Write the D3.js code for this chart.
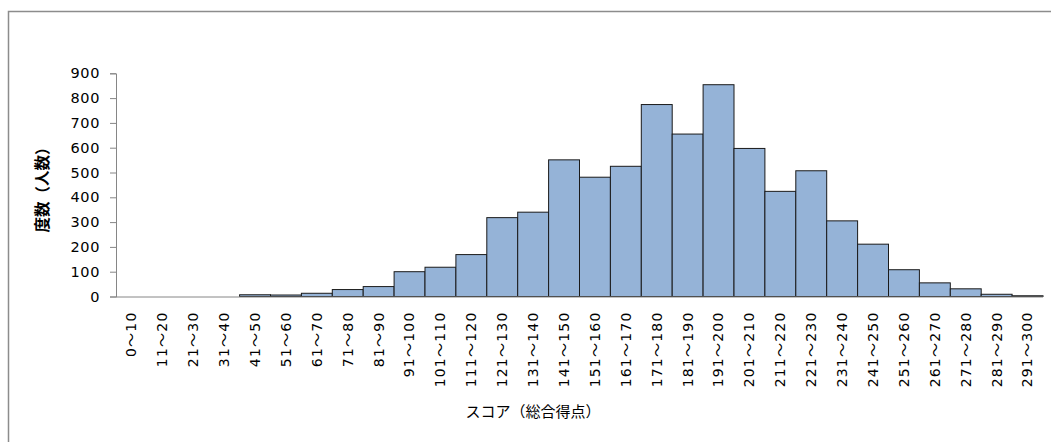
<!DOCTYPE html>
<html>
<head>
<meta charset="utf-8">
<script src="https://cdnjs.cloudflare.com/ajax/libs/d3/7.8.5/d3.min.js"></script>
<style>
  body { margin: 0; background: #fff; }
  svg text { font-family: "DejaVu Sans", "Noto Sans CJK JP", sans-serif; fill: #000; }
</style>
</head>
<body>
<script>
// score bins and counts
var bins = ['0～10','11～20','21～30','31～40','41～50','51～60','61～70','71～80','81～90','91～100',
            '101～110','111～120','121～130','131～140','141～150','151～160','161～170','171～180','181～190','191～200',
            '201～210','211～220','221～230','231～240','241～250','251～260','261～270','271～280','281～290','291～300'];
var counts = [0, 0, 0, 0, 7, 6, 13, 28, 40, 100,
              118, 169, 318, 340, 551, 481, 525, 774, 655, 854,
              597, 424, 507, 305, 211, 108, 55, 31, 9, 3];
var yTicks = [0, 100, 200, 300, 400, 500, 600, 700, 800, 900];

var width = 1051, height = 442;
var plotLeft = 116, plotRight = 1043, plotTop = 73.3, plotBottom = 296.5;

var svg = d3.select('body').append('svg')
    .attr('width', width)
    .attr('height', height);

// chart frame (only top and left edges show in the picture)
svg.append('path')
    .attr('d', 'M8.5,' + height + 'V11.5H' + width)
    .attr('fill', 'none')
    .attr('stroke', '#8c8c8c')
    .attr('stroke-width', 1.5);

var x = d3.scaleBand().domain(bins).range([plotLeft, plotRight]).padding(0);
var y = d3.scaleLinear().domain([0, 900]).range([plotBottom, plotTop]);

// bars
svg.append('g').selectAll('rect')
    .data(counts)
    .enter().append('rect')
        .attr('x', function(d, i) { return x(bins[i]); })
        .attr('y', function(d) { return y(d); })
        .attr('width', x.bandwidth())
        .attr('height', function(d) { return plotBottom - y(d); })
        .attr('fill', '#95b3d7')
        .attr('stroke', '#1a1a1a')
        .attr('stroke-width', 1);

// y axis
var yAxis = svg.append('g')
    .attr('transform', 'translate(' + plotLeft + ',0)')
    .call(d3.axisLeft(y).tickValues(yTicks).tickSize(6).tickPadding(10));
yAxis.select('.domain').attr('stroke', '#868686');
yAxis.selectAll('.tick line').attr('stroke', '#868686');
yAxis.selectAll('.tick text')
    .style('font-size', '14.5px')
    .style('letter-spacing', '0.6px')
    .attr('fill', '#111');

// x axis
var xAxis = svg.append('g')
    .attr('transform', 'translate(0,' + plotBottom + ')')
    .call(d3.axisBottom(x).tickSize(0).tickPadding(0));
xAxis.select('.domain').attr('stroke', '#868686').attr('d', 'M' + plotLeft + ',0.5H' + plotRight);
xAxis.selectAll('.tick text')
    .style('font-size', '14px')
    .style('letter-spacing', '1.2px')
    .attr('fill', '#111')
    .attr('text-anchor', 'end')
    .attr('transform', 'rotate(-90)')
    .attr('x', -15)
    .attr('y', 0)
    .attr('dy', '0.35em');

// axis titles
svg.append('text')
    .attr('x', 533)
    .attr('y', 417)
    .attr('text-anchor', 'middle')
    .style('font-size', '15px')
    .style('font-family', '"Noto Sans CJK JP", sans-serif')
    .text('スコア（総合得点）');

svg.append('text')
    .attr('transform', 'translate(43,186) rotate(-90)')
    .attr('text-anchor', 'middle')
    .attr('dy', '0.35em')
    .style('font-size', '15.5px')
    .style('font-weight', 'bold')
    .style('font-family', '"Noto Sans CJK JP", sans-serif')
    .text('度数（人数）');
</script>
</body>
</html>
